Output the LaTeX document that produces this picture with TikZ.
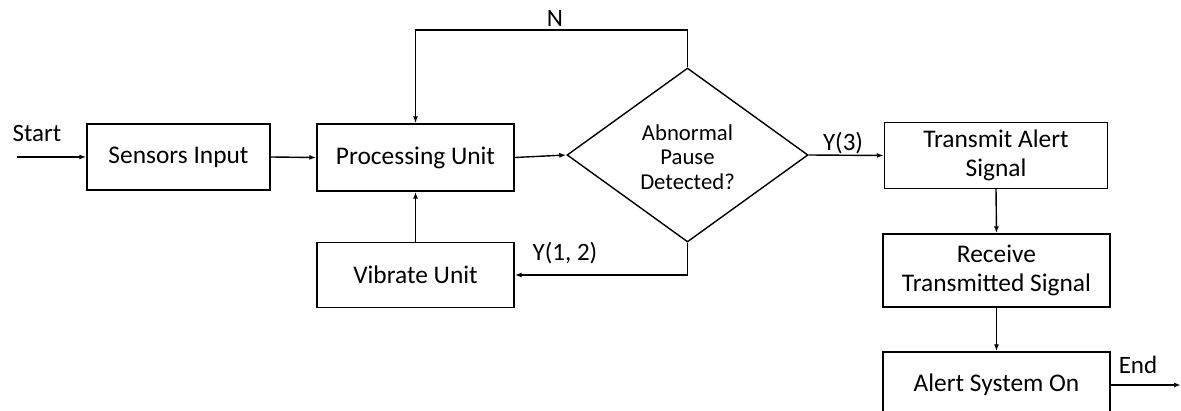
\documentclass[tikz,border=0pt]{standalone}
\usepackage{fontspec}
\setmainfont{Carlito}
\usetikzlibrary{shapes.geometric,arrows.meta}
\begin{document}
\begin{tikzpicture}[x=1pt,y=-1pt,
  box/.style={draw,line width=1.4pt,inner sep=0pt,align=center,font=\fontsize{25.4}{29}\selectfont},
  lbl/.style={inner sep=0pt,font=\fontsize{25}{28}\selectfont},
  arr/.style={line width=1.4pt,-{Latex[length=7pt,width=5pt]}},
  ln/.style={line width=1.4pt}]
\clip (0,0) rectangle (1181,411);
\fill[white] (0,0) rectangle (1181,411);
% nodes
\node[box,minimum width=183pt,minimum height=66pt] (sens) at (178.5,157) {Sensors Input};
\node[box,minimum width=197pt,minimum height=67pt] (proc) at (415.5,157.5) {Processing Unit};
\node[box,minimum width=197pt,minimum height=65pt] (vib) at (415.5,275) {Vibrate Unit};
\node[draw,line width=1.4pt,diamond,aspect=1.39,minimum width=241pt,minimum height=174pt,inner sep=0pt] (dia) at (687.5,155) {};
\node[align=center,inner sep=0pt,font=\fontsize{22.7}{24.5}\selectfont] (diat) at (687.5,157) {Abnormal\\Pause\\Detected?};
\node[box,minimum width=223pt,minimum height=66pt] (trans) at (996,155.5) {Transmit Alert\\Signal};
\node[box,minimum width=227pt,minimum height=73pt] (recv) at (996.5,270.5) {Receive\\Transmitted Signal};
\node[box,minimum width=227pt,minimum height=66pt] (alert) at (996.5,385) {Alert System On};
% labels
\node[lbl] (start) at (37,133) {Start};
\node[lbl] (nlab) at (555,18) {N};
\node[lbl] (y3) at (843,143) {Y(3)};
\node[lbl] (y12) at (565,253) {Y(1, 2)};
\node[lbl] (endl) at (1138,365) {End};
% coordinates
\coordinate (sfree) at (17,157);
\coordinate (efree) at (1181,385);
\coordinate (ntop) at (0,30);
% connectors
\draw[arr] (sfree) -- (sens.west);
\draw[arr] (sens.east) -- (proc.west);
\draw[arr] (proc.east) -- (dia.west);
\draw[arr] (dia.north) -- (dia.north |- ntop) -| (proc.north);
\draw[arr] (dia.east) -- (trans.west);
\draw[arr] (dia.south) |- (vib.east);
\draw[arr] (vib.north) -- (proc.south);
\draw[arr] (trans.south) -- (recv.north);
\draw[arr] (recv.south) -- (alert.north);
\draw[arr] (alert.east) -- (efree);
\end{tikzpicture}
\end{document}
